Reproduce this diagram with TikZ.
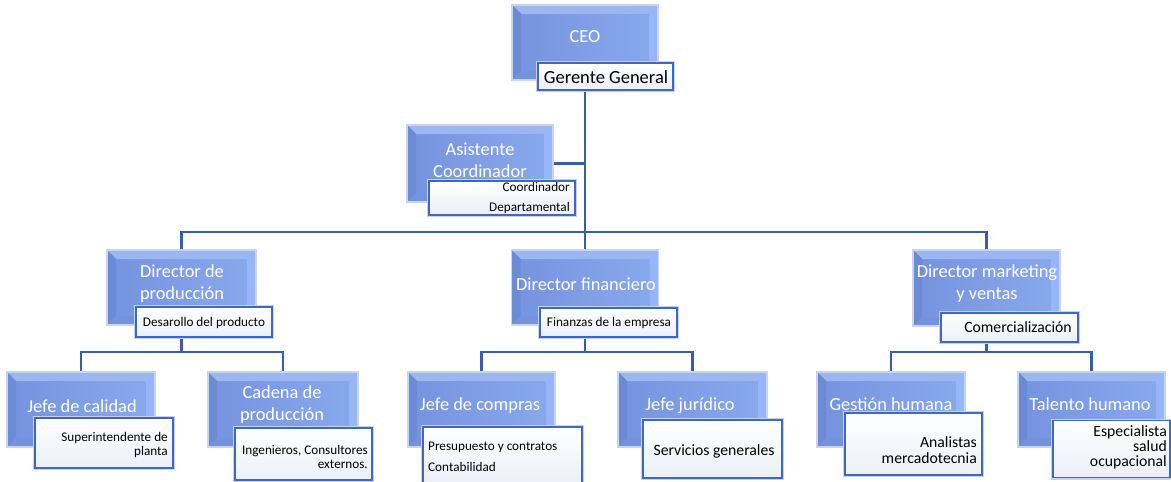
\documentclass[tikz,border=0pt]{standalone}
\usepackage{fontspec}
\setmainfont{Carlito}
\usetikzlibrary{backgrounds,calc}
\definecolor{bmainL}{HTML}{7593DE}
\definecolor{bmainR}{HTML}{89A9EE}
\definecolor{btop}{HTML}{9CB6F1}
\definecolor{bleft}{HTML}{6B8BD7}
\definecolor{bright}{HTML}{96B6F9}
\definecolor{bbot}{HTML}{7393DC}
\definecolor{bborder}{HTML}{C9D5F0}
\definecolor{lborder}{HTML}{3F67C3}
\definecolor{lout}{HTML}{C5D2F0}
\definecolor{lbot}{HTML}{ECEFF8}
\definecolor{conncol}{HTML}{3A5CAA}
\begin{document}
\begin{tikzpicture}[x=1pt,y=-1pt,
  bbx/.style={rectangle, left color=bmainL, right color=bmainR, draw=bborder, line width=1.8pt, inner sep=0pt,
    path picture={
      \coordinate (pNW) at (path picture bounding box.north west);
      \coordinate (pNE) at (path picture bounding box.north east);
      \coordinate (pSW) at (path picture bounding box.south west);
      \coordinate (pSE) at (path picture bounding box.south east);
      \fill[btop] (pNW) -- (pNE) -- ([shift={(-9pt,-9pt)}]pNE) -- ([shift={(9pt,-9pt)}]pNW) -- cycle;
      \fill[bleft] (pNW) -- ([shift={(9pt,-9pt)}]pNW) -- ([shift={(9pt,9pt)}]pSW) -- (pSW) -- cycle;
      \fill[bright] (pNE) -- ([shift={(-9pt,-9pt)}]pNE) -- ([shift={(-9pt,9pt)}]pSE) -- (pSE) -- cycle;
      \fill[bbot] (pSW) -- ([shift={(9pt,9pt)}]pSW) -- ([shift={(-9pt,9pt)}]pSE) -- (pSE) -- cycle;
    }},
  lbl/.style={rectangle, draw=lborder, line width=1.8pt, top color=white, bottom color=lbot, inner sep=0pt,
    preaction={draw=lout, line width=4pt}},
  btxt/.style={text=white, font=\fontsize{18.4}{22}\selectfont, align=center, inner sep=0pt},
  stxt/.style={text=black, font=\fontsize{13.2}{13.5}\selectfont, inner sep=0pt},
  mtxt/.style={text=black, font=\fontsize{15.7}{15.5}\selectfont, inner sep=0pt},
  conn/.style={draw=conncol, line width=2.5pt}
]
\useasboundingbox (0,0) rectangle (1171,482);

% blue boxes
\node[bbx, minimum width=146pt, minimum height=75pt] (ceo) at (585,42.5) {};
\node[bbx, minimum width=146pt, minimum height=77pt] (asis) at (480,163.5) {};
\node[bbx, minimum width=149pt, minimum height=75pt] (dprod) at (181.5,287.5) {};
\node[bbx, minimum width=147pt, minimum height=75pt] (dfin) at (585,287.5) {};
\node[bbx, minimum width=147pt, minimum height=76pt] (dmkt) at (986.5,288) {};
\node[bbx, minimum width=148pt, minimum height=75pt] (jcal) at (81,409.5) {};
\node[bbx, minimum width=150pt, minimum height=75pt] (cad) at (283,409.5) {};
\node[bbx, minimum width=147pt, minimum height=75pt] (jcomp) at (481.5,409.5) {};
\node[bbx, minimum width=149pt, minimum height=75pt] (jjur) at (692.5,409.5) {};
\node[bbx, minimum width=148pt, minimum height=75pt] (gest) at (891,409.5) {};
\node[bbx, minimum width=147pt, minimum height=75pt] (tal) at (1091.5,409.5) {};

% connectors
\begin{scope}[on background layer]
  \coordinate (j0) at (585,232);
  \coordinate (lvl) at (0,352);
  \draw[conn] (ceo.center) -- (dfin.center);
  \draw[conn] (asis.center) -- (asis.center -| ceo.center);
  \draw[conn] (dprod.center) |- (j0) -| (dmkt.center);
  \draw[conn] (dprod.center) -- (lvl -| dprod.center);
  \draw[conn] (jcal.center) |- (lvl -| dprod.center) -| (cad.center);
  \draw[conn] (dfin.center) -- (lvl -| dfin.center);
  \draw[conn] (jcomp.center) |- (lvl -| dfin.center) -| (jjur.center);
  \draw[conn] (dmkt.center) -- (lvl -| dmkt.center);
  \draw[conn] (gest.center) |- (lvl -| dmkt.center) -| (tal.center);
\end{scope}

% label boxes
\node[lbl, minimum width=135pt, minimum height=27pt] (gg) at (605.5,76.5) {};
\node[lbl, minimum width=146pt, minimum height=34pt] (coord) at (502,198) {};
\node[lbl, minimum width=136pt, minimum height=30pt] (desa) at (204,322) {};
\node[lbl, minimum width=137pt, minimum height=29pt] (finl) at (608.5,322.5) {};
\node[lbl, minimum width=137pt, minimum height=29pt] (com) at (1009.5,327.5) {};
\node[lbl, minimum width=138pt, minimum height=50pt] (sup) at (104,443) {};
\node[lbl, minimum width=137pt, minimum height=52pt] (ing) at (303.5,454) {};
\node[lbl, minimum width=159pt, minimum height=57pt] (pres) at (502.5,455.5) {};
\node[lbl, minimum width=139pt, minimum height=58pt] (serv) at (712.5,449) {};
\node[lbl, minimum width=137pt, minimum height=62pt] (anal) at (913.5,444) {};
\node[lbl, minimum width=117pt, minimum height=57pt] (esp) at (1111.5,449) {};

% blue box texts
\node[btxt] (ceo-t) at (585,37) {CEO};
\node[btxt] (asis-t) at (480,160) {Asistente\\Coordinador};
\node[btxt] (dprod-t) at (182,284) {Director de\\producción};
\node[btxt] (dfin-t) at (586,284) {Director financiero};
\node[btxt] (dmkt-t) at (987,284) {Director marketing\\y ventas};
\node[btxt] (jcal-t) at (82,406) {Jefe de calidad};
\node[btxt] (cad-t) at (282,405) {Cadena de\\producción};
\node[btxt] (jcomp-t) at (480,406) {Jefe de compras};
\node[btxt] (jjur-t) at (690,406) {Jefe jurídico};
\node[btxt] (gest-t) at (891,404) {Gestión humana};
\node[btxt] (tal-t) at (1090,404) {Talento humano};

% label texts
\node[text=black, inner sep=0pt, font=\fontsize{18.5}{20}\selectfont] (gg-t) at (606,77) {Gerente General};
\node[stxt, anchor=east, align=right, font=\fontsize{13.2}{20}\selectfont] (coord-t) at (570,198) {Coordinador\\Departamental};
\node[stxt] (desa-t) at (204,323) {Desarollo del producto};
\node[stxt] (finl-t) at (609,323) {Finanzas de la empresa};
\node[mtxt] (com-t) at (1018,327) {Comercialización};
\node[stxt, anchor=east, align=right] (sup-t) at (168,445) {Superintendente de\\planta};
\node[stxt, anchor=east, align=right] (ing-t) at (368,457) {Ingenieros, Consultores\\externos.};
\node[stxt, anchor=west, align=left, font=\fontsize{13.2}{21}\selectfont] (pres-t) at (428,457) {Presupuesto y contratos\\Contabilidad};
\node[mtxt] (serv-t) at (714,451) {Servicios generales};
\node[mtxt, anchor=east, align=right] (anal-t) at (977,450) {Analistas\\mercadotecnia};
\node[mtxt, anchor=east, align=right, font=\fontsize{15.7}{15}\selectfont] (esp-t) at (1167,447) {Especialista\\salud\\ocupacional};
\end{tikzpicture}
\end{document}
